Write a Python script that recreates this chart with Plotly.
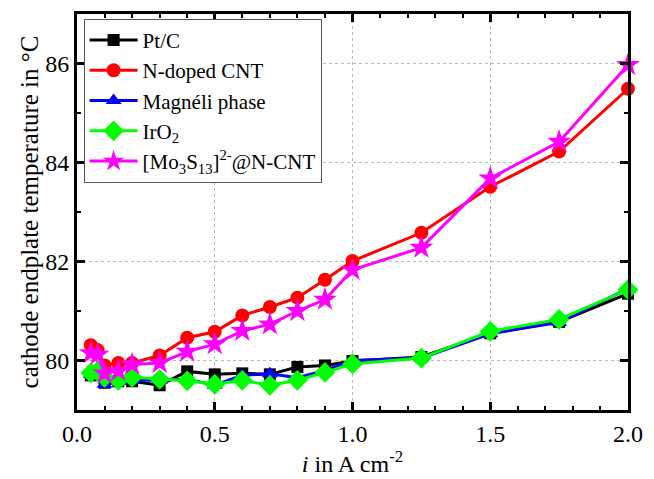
import plotly.graph_objects as go

x_vals = [0.05, 0.075, 0.1, 0.15, 0.2, 0.3, 0.4, 0.5, 0.6, 0.7, 0.8, 0.9, 1.0, 1.25, 1.5, 1.75, 2.0]

pt_c = [79.70, 79.72, 79.55, 79.58, 79.58, 79.50, 79.78, 79.72, 79.74, 79.72, 79.87, 79.90, 79.99, 80.07, 80.55, 80.78, 81.35]
n_cnt = [80.31, 80.21, 79.90, 79.95, 79.95, 80.10, 80.46, 80.58, 80.91, 81.08, 81.27, 81.63, 82.01, 82.58, 83.51, 84.22, 85.49]
magneli = [79.72, 79.70, 79.52, 79.58, 79.60, 79.60, 79.62, 79.50, 79.70, 79.73, 79.65, 79.80, 80.00, 80.05, 80.54, 80.77, 81.45]
iro2 = [79.75, 79.78, 79.66, 79.60, 79.66, 79.62, 79.59, 79.52, 79.60, 79.50, 79.60, 79.76, 79.93, 80.05, 80.59, 80.83, 81.43]
mo3s13 = [80.15, 80.12, 79.74, 79.79, 79.92, 79.95, 80.18, 80.33, 80.60, 80.73, 81.00, 81.23, 81.83, 82.28, 83.68, 84.42, 85.97]

series = [
    ("Pt/C", pt_c, "#000000", "square", 12),
    ("N-doped CNT", n_cnt, "#FF0000", "circle", 14),
    ("Magnéli phase", magneli, "#0000FF", "triangle-up", 14),
    ("IrO<sub>2</sub>", iro2, "#00FF00", "diamond", 16),
    ("[Mo<sub>3</sub>S<sub>13</sub>]<sup>2-</sup>@N-CNT", mo3s13, "#FF00FF", "star", 18),
]

fig = go.Figure()
for name, ys, color, sym, size in series:
    fig.add_trace(go.Scatter(
        x=x_vals, y=ys, name=name, mode="lines+markers",
        line=dict(color=color, width=3),
        marker=dict(symbol=sym, size=size, color=color, line=dict(width=0)),
        cliponaxis=False,
    ))

font_family = "Liberation Serif"

fig.update_layout(
    width=654, height=479,
    margin=dict(l=77, r=18, t=11, b=66),
    paper_bgcolor="white", plot_bgcolor="white",
    font=dict(family=font_family, size=24, color="black"),
    showlegend=True,
    legend=dict(
        x=0.012, y=0.988, xanchor="left", yanchor="top",
        bordercolor="#555555", borderwidth=1, bgcolor="white",
        font=dict(family=font_family, size=21, color="black"),
        tracegroupgap=0, itemwidth=48,
    ),
)

fig.update_xaxes(
    range=[0, 2], tick0=0, dtick=0.5, tickformat=".1f",
    showline=True, linecolor="black", linewidth=3, mirror="ticks",
    ticks="inside", ticklen=8, tickwidth=2.5, tickcolor="black",
    minor=dict(ticks="inside", ticklen=4, tickwidth=2, tickcolor="black", dtick=0.1, showgrid=False),
    showgrid=True, gridcolor="#b8b8b8", gridwidth=1, griddash="dot",
    zeroline=False,
    tickfont=dict(family=font_family, size=24, color="black"),
    title=dict(text="<i>i</i> in A cm<sup>-2</sup>", font=dict(family=font_family, size=24, color="black"), standoff=4),
)
fig.update_yaxes(
    range=[79, 87], tick0=80, dtick=2,
    showline=True, linecolor="black", linewidth=3, mirror="ticks",
    ticks="inside", ticklen=8, tickwidth=2.5, tickcolor="black",
    minor=dict(ticks="inside", ticklen=4, tickwidth=2, tickcolor="black", dtick=1, showgrid=False),
    showgrid=True, gridcolor="#b8b8b8", gridwidth=1, griddash="dot",
    zeroline=False, automargin=True,
    tickfont=dict(family=font_family, size=24, color="black"),
    title=dict(text="cathode endplate temperature in °C", font=dict(family=font_family, size=25, color="black"), standoff=0),
)

fig.write_html(
    "out.html",
    config={"displayModeBar": False},
    post_script="document.body.style.margin='0';document.body.style.overflow='hidden';",
)
